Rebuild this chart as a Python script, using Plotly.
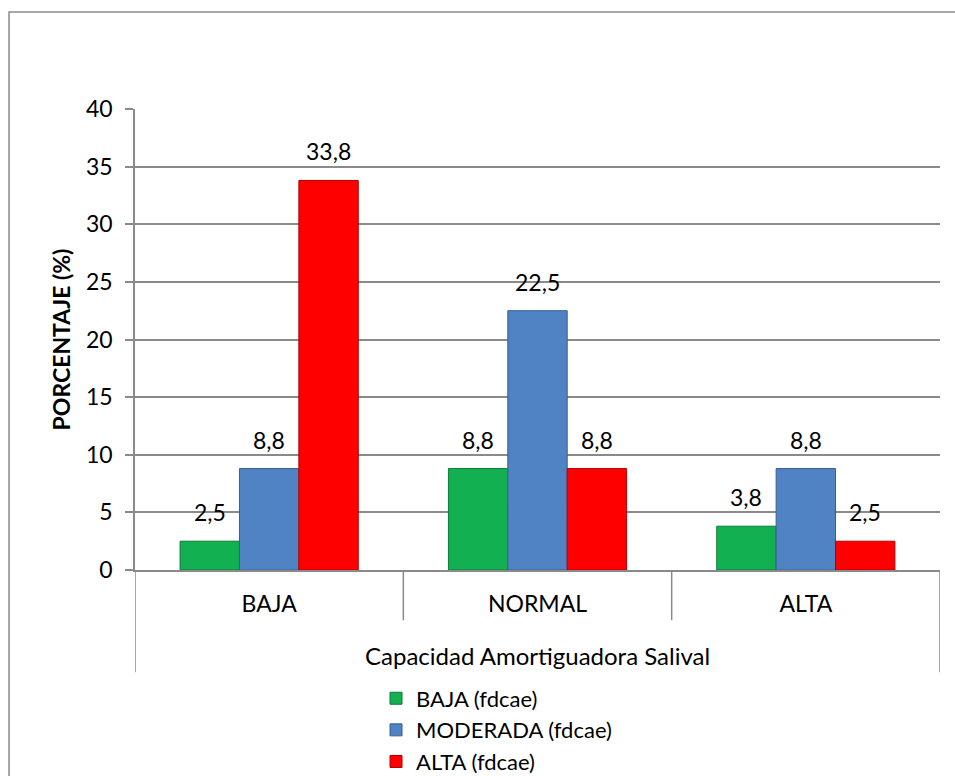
import plotly.graph_objects as go

# Categories of salivary buffering capacity and the three series
categorias = ["BAJA", "NORMAL", "ALTA"]
series = ["BAJA (fdcae)", "MODERADA (fdcae)", "ALTA (fdcae)"]
baja = [2.5, 8.8, 3.8]
moderada = [8.8, 22.5, 8.8]
alta = [33.8, 8.8, 2.5]
valores = [baja, moderada, alta]

colores = ["#12B050", "#5083C4", "#FF0000"]
bordes = ["#0A7A36", "#385E8E", "#B00000"]

FONT = "Lato"
SIZE = 23
GRIS = "#8A8A8A"
BARGAP = 0.336

fig = go.Figure()
for nombre, vals, col, borde in zip(series, valores, colores, bordes):
    fig.add_trace(go.Bar(
        name=nombre, x=categorias, y=vals,
        marker=dict(color=col, line=dict(color=borde, width=1)),
        hoverinfo="skip",
    ))

# Value labels above each bar, placed at the bar's own grouped position
ancho = (1 - BARGAP) / len(series)
anotaciones = []
for s, vals in enumerate(valores):
    for c, v in enumerate(vals):
        anotaciones.append(dict(
            x=c + (s - (len(series) - 1) / 2) * ancho, y=v,
            xref="x", yref="y", text=f"{v:.1f}".replace(".", ","),
            showarrow=False, yanchor="bottom", yshift=13,
            font=dict(family=FONT, size=SIZE, color="#000000"),
        ))

# Category axis title
anotaciones.append(dict(
    x=0.5, y=-0.185, xref="paper", yref="paper",
    text="Capacidad Amortiguadora Salival", showarrow=False,
    xanchor="center", yanchor="middle",
    font=dict(family=FONT, size=24, color="#000000"),
))

# Category separators below the axis (outer ones reach the axis title row)
n = len(categorias)
formas = []
for i in range(n + 1):
    exterior = i in (0, n)
    formas.append(dict(
        type="line", xref="x", yref="paper",
        x0=i - 0.5, x1=i - 0.5, y0=0, y1=-0.222 if exterior else -0.109,
        line=dict(color=GRIS, width=1.5),
    ))
# Chart frame
formas.append(dict(
    type="rect", xref="paper", yref="paper",
    x0=-0.1565, x1=1.05, y0=-0.6, y1=1.2104,
    line=dict(color=GRIS, width=1.5), layer="below",
))

fig.update_layout(
    width=955, height=776,
    margin=dict(l=135, r=15, t=109, b=206, autoexpand=False),
    paper_bgcolor="white", plot_bgcolor="white",
    barmode="group", bargap=BARGAP, bargroupgap=0,
    font=dict(family=FONT, size=SIZE, color="#000000"),
    showlegend=True,
    legend=dict(
        orientation="v", x=0.2994, y=0.127, xref="paper", yref="container",
        xanchor="left", yanchor="top",
        font=dict(family=FONT, size=22, color="#000000"),
        itemwidth=30, tracegroupgap=0, bgcolor="rgba(0,0,0,0)",
    ),
    annotations=anotaciones,
    shapes=formas,
)
fig.update_xaxes(
    type="category", range=[-0.5, n - 0.5], automargin=False,
    showline=True, linecolor=GRIS, linewidth=1.5,
    ticks="", ticklabelstandoff=13, showgrid=False,
    tickfont=dict(family=FONT, size=SIZE, color="#000000"),
)
fig.update_yaxes(
    range=[0, 40], dtick=5, tick0=0, automargin=False,
    showline=True, linecolor=GRIS, linewidth=1.5,
    ticks="outside", ticklen=8, tickcolor=GRIS, tickwidth=1.5,
    ticklabelstandoff=8,
    showgrid=True, gridcolor=GRIS, gridwidth=1.5,
    zeroline=False,
    tickfont=dict(family=FONT, size=SIZE, color="#000000"),
    title=dict(text="<b>PORCENTAJE (%)</b>", standoff=9,
               font=dict(family=FONT, size=23, color="#000000")),
)

fig.write_html("out.html")
